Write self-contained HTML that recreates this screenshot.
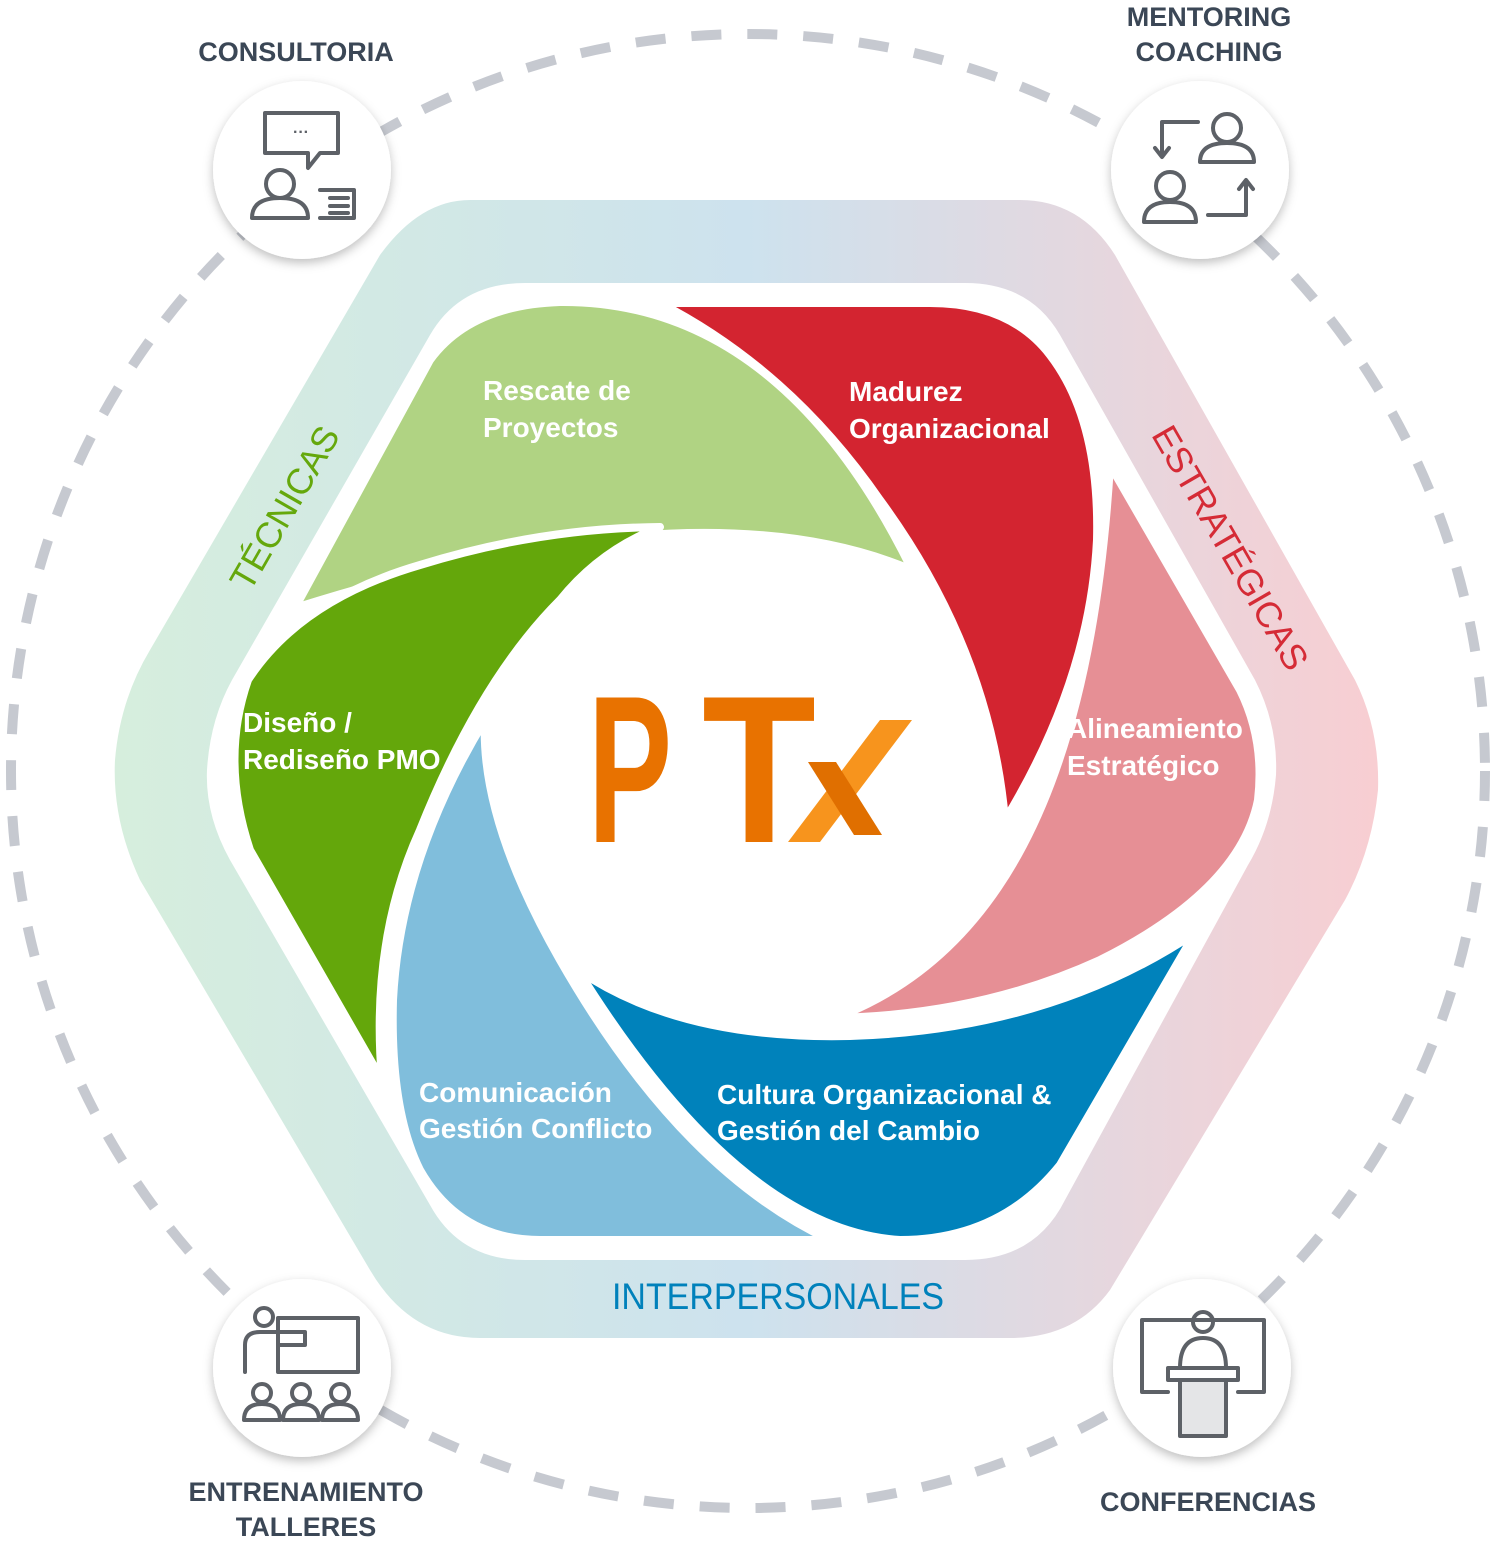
<!DOCTYPE html>
<html><head><meta charset="utf-8"><style>
html,body{margin:0;padding:0;background:#fff;}
svg{display:block;font-family:"Liberation Sans",sans-serif;}
.w{fill:#fff;font-weight:bold;font-size:28px;}
.lab{fill:#3b4756;font-weight:bold;font-size:27px;text-anchor:middle;}
.ic{fill:none;stroke:#5d6167;stroke-width:4;stroke-linejoin:round;stroke-linecap:round;}
</style></head><body>
<svg width="1492" height="1544" viewBox="0 0 1492 1544">
<defs>
<linearGradient id="band" x1="0" x2="1" y1="0" y2="0">
<stop offset="0" stop-color="#d6eedd"/><stop offset="0.5" stop-color="#cde2ee"/><stop offset="1" stop-color="#f8ced2"/>
</linearGradient>
<filter id="sh" x="-30%" y="-30%" width="160%" height="160%"><feDropShadow dx="0" dy="4" stdDeviation="5" flood-color="#000" flood-opacity="0.25"/></filter>
</defs>
<circle cx="748" cy="771" r="737" fill="none" stroke="#c6c9d0" stroke-width="10" stroke-dasharray="30 26"/>
<path d="M470,200 L1020,200 Q1080,200 1115,255 L1355,680 Q1380,730 1378,790 Q1372,850 1345,900 L1110,1290 Q1075,1338 1010,1338 L480,1338 Q410,1338 370,1270 L140,880 Q112,820 115,760 Q120,700 150,650 L380,255 Q420,200 470,200 Z" fill="url(#band)"/>
<path d="M525,283 L965,283 Q1030,283 1060,335 L1255,680 Q1278,725 1276,775 Q1272,825 1248,865 L1065,1200 Q1035,1260 965,1260 L525,1260 Q460,1260 430,1205 L230,860 Q205,815 207,770 Q210,720 232,680 L430,335 Q460,283 525,283 Z" fill="#fff"/>
<g stroke="#fff" stroke-width="8" stroke-linejoin="round">
<path d="M295,608 L430,360 Q470,305 560,302 Q780,300 912,570 Q700,480 295,608 Z" fill="#b0d383"/>
<path d="M660,303 L930,303 Q1010,303 1050,355 Q1100,420 1097,540 Q1090,680 1005,820 Q990,650 880,500 Q790,370 660,303 Z" fill="#d32430"/>
<path d="M1110,465 L1240,690 Q1265,740 1258,800 Q1240,890 1100,960 Q980,1015 835,1018 C990,960 1090,800 1110,465 Z" fill="#e68f95"/>
<path d="M1195,933 L1060,1165 Q1000,1240 900,1240 Q740,1230 578,970 Q680,1040 850,1036 Q1050,1030 1195,933 Z" fill="#0082bb"/>
<path d="M830,1240 L540,1240 Q460,1240 420,1170 Q390,1110 393,1000 Q400,860 485,720 Q480,820 560,960 Q680,1170 830,1240 Z" fill="#80bedc"/>
<path d="M660,527 Q540,528 420,565 Q300,600 248,680 Q220,760 250,850 L382,1080 Q370,940 420,830 Q480,680 560,600 Q600,550 660,527 Z" fill="#64a70b"/>
</g>
<text class="w" x="483" y="400">Rescate de</text><text class="w" x="483" y="437">Proyectos</text>
<text class="w" x="849" y="401">Madurez</text><text class="w" x="849" y="438">Organizacional</text>
<text class="w" x="1067" y="738">Alineamiento</text><text class="w" x="1067" y="775">Estratégico</text>
<text class="w" x="243" y="732">Diseño /</text><text class="w" x="243" y="769">Rediseño PMO</text>
<text class="w" x="419" y="1102">Comunicación</text><text class="w" x="419" y="1138">Gestión Conflicto</text>
<text class="w" x="717" y="1104">Cultura Organizacional &amp;</text><text class="w" x="717" y="1140">Gestión del Cambio</text>
<text x="285" y="520" fill="#65a80c" font-size="36" text-anchor="middle" transform="rotate(-60 285 508)">TÉCNICAS</text>
<text x="1230" y="560" fill="#d52b36" font-size="36" text-anchor="middle" transform="rotate(60 1230 548)">ESTRATÉGICAS</text>
<text x="778" y="1309" fill="#0081bb" font-size="37" text-anchor="middle" textLength="332" lengthAdjust="spacingAndGlyphs">INTERPERSONALES</text>
<text x="588" y="842" fill="#e87200" font-size="210" font-weight="bold" textLength="84" lengthAdjust="spacingAndGlyphs">P</text>
<text x="702" y="842" fill="#e87200" font-size="210" font-weight="bold" textLength="114" lengthAdjust="spacingAndGlyphs">T</text>
<polygon points="788,842 880,720 912,720 820,842" fill="#f7941d"/>
<polygon points="808,762 836,762 882,835 854,835" fill="#e06f00"/>
<g fill="#fff" filter="url(#sh)">
<circle cx="302" cy="170" r="89"/><circle cx="1200" cy="170" r="89"/>
<circle cx="302" cy="1368" r="89"/><circle cx="1202" cy="1368" r="89"/>
</g>
<g class="ic">
<path d="M265,113 H338 V153 H320 L308,168 V153 H265 Z"/>
<circle cx="280" cy="184" r="14"/><path d="M252,218 Q252,198 280,198 Q308,198 308,218 Z"/>
<path d="M320,190 H354 V218 H320 M330,198 H348 M330,206 H348 M330,213 H348"/>
</g>
<text x="293" y="137" fill="#5d6167" font-size="16" font-weight="bold">···</text>
<g class="ic">
<circle cx="1227" cy="128" r="14"/><path d="M1200,162 Q1200,143 1227,143 Q1254,143 1254,162 Z"/>
<circle cx="1170" cy="186" r="14"/><path d="M1144,222 Q1144,202 1170,202 Q1196,202 1196,222 Z"/>
<path d="M1198,122 H1162 V155 M1155,148 L1162,157 L1169,148"/>
<path d="M1208,215 H1246 V182 M1239,189 L1246,180 L1253,189"/>
</g>
<g class="ic">
<circle cx="264" cy="1317" r="9"/>
<path d="M278,1318 H358 V1372 H278 Z M245,1372 V1345 Q245,1332 260,1332 H305 V1345 H278 V1372"/>
<circle cx="262" cy="1393" r="9"/><circle cx="301" cy="1393" r="9"/><circle cx="340" cy="1393" r="9"/>
<path d="M244,1420 Q244,1404 262,1404 Q280,1404 280,1420 Z M283,1420 Q283,1404 301,1404 Q319,1404 319,1420 Z M322,1420 Q322,1404 340,1404 Q358,1404 358,1420 Z"/>
</g>
<g class="ic">
<path d="M1168,1392 H1142 V1320 H1264 V1392 H1238"/>
<circle cx="1203" cy="1322" r="10"/>
<path d="M1180,1368 Q1180,1338 1203,1338 Q1226,1338 1226,1368"/>
<path d="M1168,1368 H1238 V1380 H1168 Z"/>
<path d="M1180,1380 H1226 V1436 H1180 Z" fill="#e4e5e7"/>
</g>
<text class="lab" x="296" y="61">CONSULTORIA</text>
<text class="lab" x="1209" y="26">MENTORING</text><text class="lab" x="1209" y="61">COACHING</text>
<text class="lab" x="306" y="1501">ENTRENAMIENTO</text><text class="lab" x="306" y="1536">TALLERES</text>
<text class="lab" x="1208" y="1511">CONFERENCIAS</text>
</svg>
</body></html>
